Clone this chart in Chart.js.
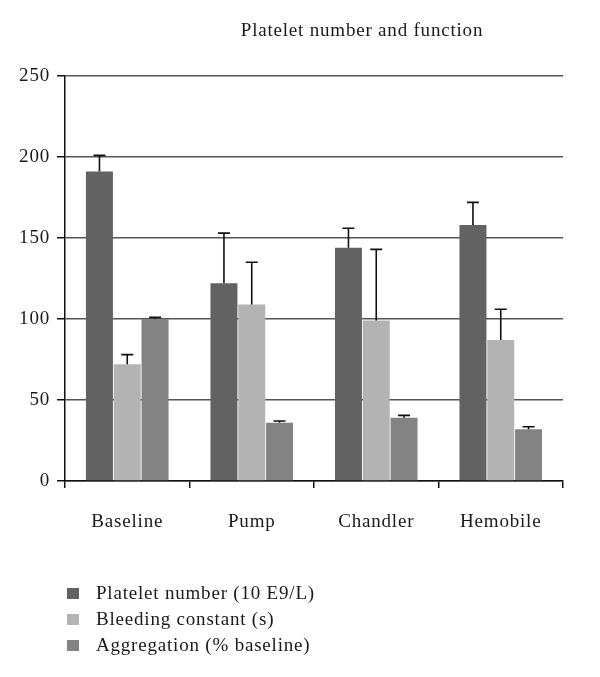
<!DOCTYPE html>
<html>
<head>
<meta charset="utf-8">
<script src="https://cdn.jsdelivr.net/npm/chart.js@4"></script>
<style>
    body { margin: 0; background: #fff; }
    #wrap { position: relative; width: 600px; height: 677px; }
    #title {
        position: absolute; left: 0; width: 724px; top: 19px;
        text-align: center; font: 19px "Liberation Serif", serif; color: #1a1a1a;
        letter-spacing: 0.8px;
    }
    #legend {
        position: absolute; left: 67px; top: 581px;
        font: 19px "Liberation Serif", serif; color: #1a1a1a; letter-spacing: 0.8px;
    }
    .item { height: 26px; line-height: 24px; white-space: nowrap; }
    .box { display: inline-block; width: 12px; height: 11px; margin-right: 17px; vertical-align: 0px; }
</style>
</head>
<body>
<div id="wrap">
    <canvas id="chart" width="600" height="677"></canvas>
    <div id="title">Platelet number and function</div>
    <div id="legend"></div>
</div>
<script>
// Chart data
const categories = ["Baseline", "Pump", "Chandler", "Hemobile"];
const seriesNames = ["Platelet number (10 E9/L)", "Bleeding constant (s)", "Aggregation (% baseline)"];

const plateletNumber = [191, 122, 144, 158];
const plateletError = [10, 31, 12, 14];

const bleedingConstant = [72, 109, 99, 87];
const bleedingError = [6, 26, 44, 19];

const aggregation = [100, 36, 39, 32];
const aggregationError = [1, 1, 1.5, 1.5];

const yTicks = [0, 50, 100, 150, 200, 250];

const colors = ["#626262", "#b3b3b3", "#838383"];
const fontFamily = '"Liberation Serif", serif';

// Draws upper error bars on top of each bar
const errorBarPlugin = {
    id: "errorBars",
    afterDatasetsDraw(chart) {
        const ctx = chart.ctx;
        const yScale = chart.scales.y;
        ctx.save();
        ctx.strokeStyle = "#111";
        ctx.lineWidth = 1.6;
        chart.data.datasets.forEach((ds, di) => {
            const meta = chart.getDatasetMeta(di);
            meta.data.forEach((bar, i) => {
                const top = yScale.getPixelForValue(ds.data[i] + ds.errors[i]);
                ctx.beginPath();
                ctx.moveTo(bar.x, bar.y);
                ctx.lineTo(bar.x, top);
                ctx.moveTo(bar.x - 6, top);
                ctx.lineTo(bar.x + 6, top);
                ctx.stroke();
            });
        });
        ctx.restore();
    }
};

// Slightly wider lettering for the tick labels
const spacingPlugin = {
    id: "letterSpacing",
    beforeDraw(chart) { chart.ctx.letterSpacing = "0.8px"; }
};

const datasets = [plateletNumber, bleedingConstant, aggregation].map((values, i) => ({
    label: seriesNames[i],
    data: values,
    errors: [plateletError, bleedingError, aggregationError][i],
    backgroundColor: colors[i],
    borderWidth: 0,
    barPercentage: 0.97,
    categoryPercentage: 0.67,
}));

new Chart(document.getElementById("chart").getContext("2d"), {
    type: "bar",
    data: { labels: categories, datasets: datasets },
    options: {
        responsive: false,
        animation: false,
        layout: { padding: { top: 76, left: 0, right: 37, bottom: 0 } },
        plugins: {
            legend: { display: false },
            title: { display: false },
            tooltip: { enabled: false },
        },
        scales: {
            x: {
                grid: { display: true, drawOnChartArea: false, offset: true, color: "#111", tickLength: 7, lineWidth: 1.5 },
                border: { display: true, color: "#111", width: 1.5 },
                ticks: { color: "#1a1a1a", padding: 23, font: { family: fontFamily, size: 19 } },
                afterFit(scale) { scale.height = 677 - 481; },
            },
            y: {
                min: 0,
                max: 250,
                afterBuildTicks(scale) { scale.ticks = yTicks.map(v => ({ value: v })); },
                grid: { color: "#555", lineWidth: 1.5, tickLength: 8, tickColor: "#111" },
                border: { display: true, color: "#111", width: 1.5 },
                ticks: { color: "#1a1a1a", padding: 7, font: { family: fontFamily, size: 19 } },
                afterFit(scale) { scale.width = 65; },
            },
        },
    },
    plugins: [spacingPlugin, errorBarPlugin],
});

// Legend as a vertical list under the chart
const legendDiv = document.getElementById("legend");
seriesNames.forEach((name, i) => {
    legendDiv.innerHTML += "<div class='item'><span class='box' style='background:" + colors[i] + "'></span>" + name + "</div>";
});
</script>
</body>
</html>
